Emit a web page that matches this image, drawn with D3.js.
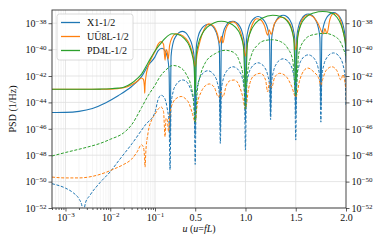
<!DOCTYPE html>
<html><head><meta charset="utf-8">
<script src="https://cdn.jsdelivr.net/npm/d3@7"></script>
<style>
body{margin:0;background:#fff}
svg{display:block}
text{font-family:"Liberation Serif","DejaVu Serif",serif;fill:#111}
</style></head>
<body><svg id="c" width="381" height="244"></svg>
<script>
// ---- data: [u, PSD] ----
const seriesNames = ["X1-1/2", "UŪ8L-1/2", "PD4L-1/2"];
const seriesColors = ["#1f77b4", "#ff7f0e", "#2ca02c"];
const xMajorLog = [1e-3, 1e-2, 1e-1];
const xMajorLin = [0.5, 1.0, 1.5, 2.0];
const xLinLabels = ["0.5", "1.0", "1.5", "2.0"];
const yTickExps = [-52, -50, -48, -46, -44, -42, -40, -38];

const x1Solid = [[5e-4,1.7e-45],[0.001,1.75e-45],[0.002,2.1e-45],[0.004,3.5e-45],[0.008,9.5e-45],[0.015,3.2e-44],[0.03,1.6e-43],[0.05,8.9e-43],[0.07,6.3e-42],[0.1,2.8e-41],[0.13,7.9e-41],[0.17,1.26e-40],[0.2,7.9e-41],[0.225,2.5e-41],[0.24,2.0e-42],[0.25,1e-47],[0.26,3.2e-41],[0.28,3.2e-40],[0.31,1.1e-39],[0.34,2.0e-39],[0.375,2.4e-39],[0.41,1.8e-39],[0.44,7.9e-40],[0.47,2.0e-40],[0.49,2.5e-41],[0.5,3.2e-47],[0.51,1.26e-40],[0.53,1e-39],[0.56,3.5e-39],[0.59,6.3e-39],[0.625,7.9e-39],[0.66,7.1e-39],[0.69,4.0e-39],[0.72,1.1e-39],[0.74,1.6e-40],[0.75,1e-46],[0.76,2.5e-40],[0.78,2.0e-39],[0.81,7.1e-39],[0.84,1.26e-38],[0.875,1.4e-38],[0.91,1.1e-38],[0.94,6.3e-39],[0.97,1.8e-39],[0.99,2.5e-40],[1.0,3.2e-46],[1.01,5.0e-40],[1.03,4.0e-39],[1.06,1.4e-38],[1.09,2.5e-38],[1.125,3.2e-38],[1.16,2.5e-38],[1.19,1.4e-38],[1.22,4.0e-39],[1.24,5.0e-40],[1.25,1e-45],[1.26,6.3e-40],[1.28,5.0e-39],[1.31,1.8e-38],[1.34,3.2e-38],[1.375,4.0e-38],[1.41,3.2e-38],[1.44,1.8e-38],[1.47,5.0e-39],[1.49,6.3e-40],[1.5,1e-45],[1.51,7.9e-40],[1.53,6.3e-39],[1.56,2.2e-38],[1.59,4.0e-38],[1.625,5.0e-38],[1.66,4.0e-38],[1.69,2.2e-38],[1.72,6.3e-39],[1.74,7.9e-40],[1.75,3.2e-45],[1.76,1e-39],[1.78,7.9e-39],[1.81,2.8e-38],[1.84,5.0e-38],[1.875,6.3e-38],[1.91,5.0e-38],[1.94,2.8e-38],[1.97,7.9e-39],[1.99,1e-39],[2.0,1e-41]];

const x1Dashed = [[5e-4,6.9e-51],[0.001,3.2e-51],[0.0015,1.4e-51],[0.002,5.0e-52],[0.0023,1.8e-52],[0.0025,5.0e-53],[0.0028,2.5e-52],[0.0035,8.9e-52],[0.006,8.9e-51],[0.01,5.6e-50],[0.0156,4.0e-49],[0.031,7.9e-48],[0.061,2.0e-46],[0.1,1.8e-45],[0.13,1.6e-44],[0.16,3.5e-44],[0.19,2.5e-44],[0.22,4.0e-45],[0.24,2.5e-46],[0.25,7.9e-50],[0.26,6.3e-45],[0.28,6.3e-44],[0.31,2.2e-43],[0.34,4.0e-43],[0.375,5.0e-43],[0.41,4.0e-43],[0.44,1.8e-43],[0.47,4.0e-44],[0.49,6.3e-45],[0.5,2.0e-49],[0.51,4.0e-44],[0.53,3.2e-43],[0.56,1.1e-42],[0.59,2.0e-42],[0.625,2.5e-42],[0.66,2.0e-42],[0.69,1.1e-42],[0.72,3.2e-43],[0.74,4.0e-44],[0.75,7.9e-48],[0.76,7.9e-44],[0.78,6.3e-43],[0.81,2.2e-42],[0.84,4.0e-42],[0.875,5.0e-42],[0.91,4.0e-42],[0.94,2.2e-42],[0.97,6.3e-43],[0.99,7.9e-44],[1.0,2.5e-48],[1.01,1.6e-43],[1.03,1.26e-42],[1.06,4.5e-42],[1.09,7.9e-42],[1.125,1e-41],[1.16,7.9e-42],[1.19,4.5e-42],[1.22,1.26e-42],[1.24,1.6e-43],[1.25,5.0e-46],[1.26,3.2e-43],[1.28,2.5e-42],[1.31,8.9e-42],[1.34,1.6e-41],[1.375,2.0e-41],[1.41,1.6e-41],[1.44,8.9e-42],[1.47,2.5e-42],[1.49,3.2e-43],[1.5,1.4e-47],[1.51,6.3e-43],[1.53,5.0e-42],[1.56,1.8e-41],[1.59,3.2e-41],[1.625,4.0e-41],[1.66,3.2e-41],[1.69,1.8e-41],[1.72,5.0e-42],[1.74,6.3e-43],[1.75,3.2e-46],[1.76,8.9e-43],[1.78,7.1e-42],[1.81,2.5e-41],[1.84,4.5e-41],[1.875,5.6e-41],[1.91,4.5e-41],[1.94,2.5e-41],[1.97,7.1e-42],[1.99,8.9e-43],[2.0,6.3e-45]];

const u8lSolid = [[5e-4,1e-43],[0.001,1e-43],[0.003,1e-43],[0.006,1e-43],[0.01,1.02e-43],[0.02,1.3e-43],[0.03,2.2e-43],[0.04,4.0e-43],[0.05,7.1e-43],[0.055,5.6e-43],[0.058,1.6e-43],[0.059,5.0e-44],[0.06,2.0e-43],[0.063,1e-42],[0.07,5.0e-42],[0.085,2.5e-41],[0.1,7.1e-41],[0.13,2.5e-40],[0.16,4.0e-40],[0.185,2.5e-40],[0.2,1.6e-41],[0.21,1e-40],[0.22,7.9e-41],[0.232,2.0e-41],[0.245,2.0e-40],[0.27,7.9e-40],[0.31,1.6e-39],[0.35,1.4e-39],[0.4,7.9e-40],[0.45,2.0e-40],[0.48,3.2e-41],[0.5,5.0e-42],[0.52,5.0e-41],[0.55,5.0e-40],[0.6,5.0e-39],[0.635,8.9e-39],[0.68,6.3e-39],[0.72,1.6e-39],[0.745,3.2e-40],[0.76,1e-39],[0.775,3.2e-40],[0.8,2.5e-39],[0.84,1e-38],[0.88,1.26e-38],[0.92,7.1e-39],[0.96,1.26e-39],[0.98,2.5e-40],[1.0,3.2e-41],[1.02,3.2e-40],[1.05,3.2e-39],[1.08,1.26e-38],[1.11,2.2e-38],[1.15,1.8e-38],[1.19,6.3e-39],[1.22,1.26e-39],[1.237,3.2e-39],[1.255,1.4e-39],[1.29,1e-38],[1.36,2.8e-38],[1.42,1.6e-38],[1.46,4.0e-39],[1.48,7.9e-40],[1.5,1e-40],[1.52,1e-39],[1.55,1e-38],[1.58,2.8e-38],[1.62,4.2e-38],[1.67,3.2e-38],[1.72,1e-38],[1.775,1.6e-39],[1.79,4.0e-39],[1.81,1.6e-39],[1.84,2.0e-38],[1.88,5.6e-38],[1.92,4.0e-38],[1.96,6.3e-39],[1.98,1.26e-39],[2.0,3.2e-40]];

const u8lDashed = [[5e-4,2.2e-50],[0.001,1.9e-50],[0.002,1.9e-50],[0.004,2.5e-50],[0.008,5.0e-50],[0.012,8.9e-50],[0.02,2.0e-49],[0.03,5.0e-49],[0.04,1.8e-48],[0.05,6.3e-48],[0.055,4.0e-48],[0.058,1e-48],[0.06,1.26e-49],[0.062,1.26e-48],[0.07,5.0e-47],[0.085,5.0e-46],[0.1,1.26e-45],[0.137,3.5e-45],[0.16,4.5e-45],[0.185,2.0e-45],[0.2,2.5e-47],[0.21,6.3e-46],[0.222,5.0e-46],[0.235,6.3e-47],[0.25,1.6e-45],[0.28,1e-44],[0.32,2.2e-44],[0.36,2.8e-44],[0.4,2.0e-44],[0.44,7.9e-45],[0.47,1.6e-45],[0.5,3.2e-46],[0.52,6.3e-45],[0.56,6.3e-44],[0.6,1.8e-43],[0.64,2.5e-43],[0.69,1.4e-43],[0.73,2.5e-44],[0.755,6.3e-44],[0.775,2.5e-44],[0.81,2.0e-43],[0.85,4.5e-43],[0.89,5.0e-43],[0.93,2.5e-43],[0.97,3.2e-44],[1.0,3.2e-45],[1.03,1e-43],[1.08,1e-42],[1.15,1.6e-42],[1.2,5.0e-43],[1.22,6.3e-44],[1.24,3.2e-43],[1.26,1.26e-43],[1.29,7.9e-43],[1.34,1.6e-42],[1.4,1e-42],[1.46,1.6e-43],[1.5,2.5e-44],[1.54,5.0e-43],[1.58,2.5e-42],[1.62,4.0e-42],[1.68,2.0e-42],[1.73,6.3e-43],[1.75,2.0e-43],[1.77,6.3e-43],[1.8,2.5e-42],[1.86,5.0e-42],[1.91,2.5e-42],[1.95,5.0e-43],[1.97,1.26e-42],[2.0,1e-43]];

const pd4lSolid = [[5e-4,1e-43],[0.001,1e-43],[0.003,1e-43],[0.006,1.02e-43],[0.01,1.07e-43],[0.015,1.2e-43],[0.02,1.4e-43],[0.03,2.8e-43],[0.04,6.3e-43],[0.05,1.4e-42],[0.07,1e-41],[0.1,7.9e-41],[0.15,2.5e-40],[0.2,7.1e-40],[0.27,1.6e-39],[0.33,1.4e-39],[0.39,7.1e-40],[0.44,2.0e-40],[0.47,4.0e-41],[0.49,5.0e-42],[0.5,3.2e-44],[0.51,3.2e-41],[0.53,2.5e-40],[0.57,1.6e-39],[0.62,5.0e-39],[0.69,1.1e-38],[0.76,1.4e-38],[0.83,1.1e-38],[0.9,5.0e-39],[0.95,1.26e-39],[0.98,1.6e-40],[1.0,1e-43],[1.02,3.2e-40],[1.05,2.2e-39],[1.1,1e-38],[1.17,2.5e-38],[1.27,4.0e-38],[1.35,3.2e-38],[1.41,1.6e-38],[1.45,5.0e-39],[1.48,6.3e-40],[1.5,3.2e-43],[1.52,1e-39],[1.55,7.1e-39],[1.6,2.8e-38],[1.68,6.0e-38],[1.77,7.6e-38],[1.85,6.3e-38],[1.91,2.8e-38],[1.95,7.9e-39],[1.98,1.26e-39],[2.0,1.6e-40]];

const pd4lDashed = [[5e-4,8.7e-49],[0.001,1.6e-48],[0.003,4.0e-48],[0.006,7.9e-48],[0.01,1.6e-47],[0.02,5.0e-47],[0.03,2.0e-46],[0.05,4.0e-45],[0.07,3.2e-44],[0.1,2.0e-43],[0.15,8.9e-43],[0.2,2.5e-42],[0.28,6.3e-42],[0.35,4.5e-42],[0.42,1e-42],[0.46,1.6e-43],[0.48,2.5e-44],[0.5,3.2e-46],[0.52,6.3e-44],[0.55,1e-42],[0.6,1e-41],[0.7,5.0e-41],[0.8,8.9e-41],[0.88,6.3e-41],[0.94,1.26e-41],[0.98,6.3e-43],[1.0,3.2e-45],[1.02,1.6e-42],[1.06,4.0e-41],[1.12,2.2e-40],[1.2,5.0e-40],[1.27,5.6e-40],[1.35,4.0e-40],[1.42,1.26e-40],[1.47,1.6e-41],[1.5,3.2e-44],[1.53,5.0e-41],[1.58,4.5e-40],[1.66,1.26e-39],[1.79,1.7e-39],[1.88,1.1e-39],[1.95,3.2e-40],[2.0,3.2e-41]];

// ---- layout ----
const L = 52, R = 346, T = 10, B = 208;
const svg = d3.select("#c");
const xLog = d3.scaleLog().domain([5e-4, 0.1]).range([L, 155]);
const xLin = d3.scaleLinear().domain([0.1, 2.0]).range([155, R]);
const x = u => (u < 0.1 ? xLog(u) : xLin(u));
const y = d3.scaleLog().domain([1e-52, 1e-37]).range([B, T]);
const yTicks = yTickExps.map(e => Math.pow(10, e));

const xMinor = [];
[-4, -3, -2].forEach(k => { for (let m = 2; m <= 9; m++) { const v = m * Math.pow(10, k); if (v >= 5e-4 && v < 0.1) xMinor.push(v); } });

// grid
const grid = svg.append("g");
grid.selectAll(".gm").data(xMinor).join("line")
  .attr("x1", d => x(d)).attr("x2", d => x(d)).attr("y1", T).attr("y2", B)
  .attr("stroke", "#ececec").attr("stroke-width", 0.6);
grid.selectAll(".gM").data(xMajorLog.concat(xMajorLin.slice(0, 3))).join("line")
  .attr("x1", d => x(d)).attr("x2", d => x(d)).attr("y1", T).attr("y2", B)
  .attr("stroke", "#dedede").attr("stroke-width", 0.8);
grid.selectAll(".gy").data(yTicks).join("line")
  .attr("x1", L).attr("x2", R).attr("y1", d => y(d)).attr("y2", d => y(d))
  .attr("stroke", "#dedede").attr("stroke-width", 0.8);

// curves
svg.append("clipPath").attr("id", "clip").append("rect")
  .attr("x", L).attr("y", T).attr("width", R - L).attr("height", B - T);
const line = d3.line().x(d => x(d[0])).y(d => y(d[1])).curve(d3.curveMonotoneX);
const curves = svg.append("g").attr("clip-path", "url(#clip)");
const drawSeries = [
  [x1Solid, 0, false], [x1Dashed, 0, true],
  [u8lSolid, 1, false], [u8lDashed, 1, true],
  [pd4lSolid, 2, false], [pd4lDashed, 2, true]
];
drawSeries.forEach(([data, ci, dashed]) => {
  curves.append("path").datum(data).attr("d", line)
    .attr("fill", "none").attr("stroke", seriesColors[ci])
    .attr("stroke-width", dashed ? 1.0 : 1.1)
    .attr("stroke-dasharray", dashed ? "3,1.6" : null)
    .attr("stroke-linejoin", "round");
});

// axes
function supLabel(t, base, exp) {
  t.text(null);
  t.append("tspan").text(base);
  t.append("tspan").attr("dy", "-0.45em").attr("font-size", "7px").text("\u2212" + exp);
}
const axStyle = g => { g.select(".domain").remove(); g.selectAll(".tick line").attr("stroke", "#333").attr("stroke-width", 0.8); g.selectAll("text").attr("font-family", null).attr("font-size", "10px").attr("fill", "#111"); };

svg.append("g").attr("transform", `translate(0,${B})`)
  .call(d3.axisBottom(xLog).tickValues(xMinor).tickSize(2).tickFormat(""))
  .call(axStyle);
svg.append("g").attr("transform", `translate(0,${B})`)
  .call(d3.axisBottom(xLog).tickValues(xMajorLog).tickSize(3.5).tickPadding(2))
  .call(axStyle)
  .selectAll(".tick text").each(function (d) { supLabel(d3.select(this), "10", Math.round(-Math.log10(d))); });
svg.append("g").attr("transform", `translate(0,${B})`)
  .call(d3.axisBottom(xLin).tickValues(xMajorLin).tickSize(3.5).tickPadding(2).tickFormat((d, i) => xLinLabels[i]))
  .call(axStyle);

svg.append("g").attr("transform", `translate(${L},0)`)
  .call(d3.axisLeft(y).tickValues(yTicks).tickSize(3.5).tickPadding(2))
  .call(axStyle)
  .selectAll(".tick text").each(function (d, i) { supLabel(d3.select(this), "10", -yTickExps[i]); });
svg.append("g").attr("transform", `translate(${R},0)`)
  .call(d3.axisRight(y).tickValues(yTicks).tickSize(3.5).tickPadding(2))
  .call(axStyle)
  .selectAll(".tick text").each(function (d, i) { supLabel(d3.select(this), "10", -yTickExps[i]); });

// frame
svg.append("rect").attr("x", L).attr("y", T).attr("width", R - L).attr("height", B - T)
  .attr("fill", "none").attr("stroke", "#333").attr("stroke-width", 0.9);

// axis titles
const xt = svg.append("text").attr("x", (L + R) / 2).attr("y", 232).attr("text-anchor", "middle").attr("font-size", "10px");
xt.append("tspan").attr("font-style", "italic").text("u");
xt.append("tspan").text(" (");
xt.append("tspan").attr("font-style", "italic").text("u");
xt.append("tspan").text("=");
xt.append("tspan").attr("font-style", "italic").text("fL");
xt.append("tspan").text(")");
svg.append("text").attr("transform", `translate(16,${(T + B) / 2}) rotate(-90)`)
  .attr("text-anchor", "middle").attr("font-size", "10px").text("PSD (1/Hz)");

// legend
const lg = svg.append("g");
lg.append("rect").attr("x", 57).attr("y", 14).attr("width", 76).attr("height", 46).attr("rx", 2.5)
  .attr("fill", "#fff").attr("fill-opacity", 0.85).attr("stroke", "#d0d0d0").attr("stroke-width", 0.8);
seriesNames.forEach((n, i) => {
  const yy = 22.5 + i * 14;
  lg.append("line").attr("x1", 61).attr("x2", 80).attr("y1", yy).attr("y2", yy)
    .attr("stroke", seriesColors[i]).attr("stroke-width", 1.3);
  lg.append("text").attr("x", 87).attr("y", yy + 3.5).attr("font-size", "10px").text(n);
});
</script></body></html>
